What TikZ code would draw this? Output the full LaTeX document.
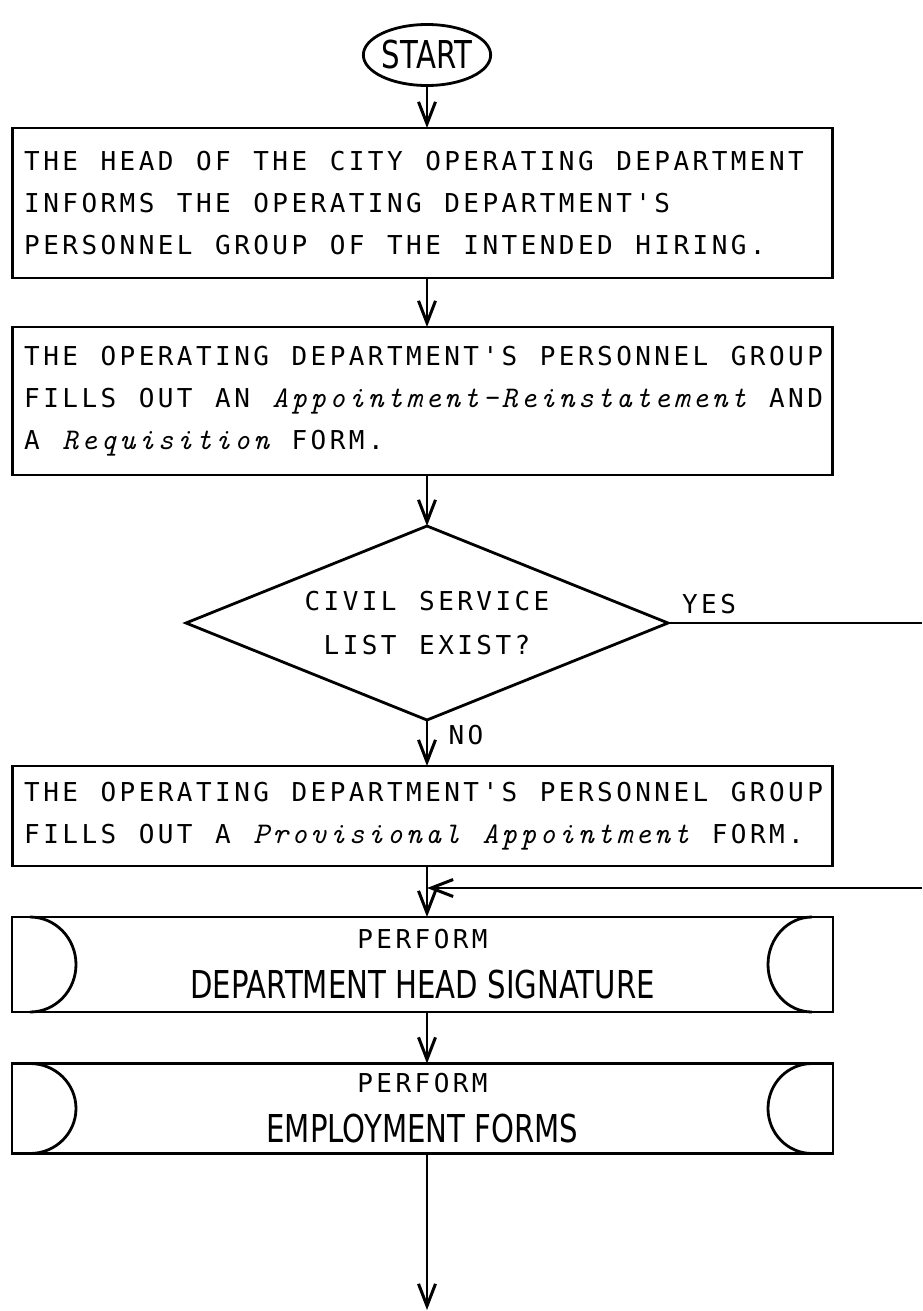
\documentclass[tikz,border=0pt]{standalone}
\usepackage{fontspec}
\usetikzlibrary{shapes.geometric,arrows.meta}

% typewriter face for the box texts, italic face for form names,
% narrow lettering face for START and the PERFORM titles
\newfontfamily\typer{DejaVu Sans Mono}
\newfontfamily\formit{lmmono10-italic.otf}
\newfontfamily\letterer[FakeStretch=0.76]{DejaVu Sans}

% fixed-pitch setting: every character, and every word space, takes one cell
\ExplSyntaxOn
\dim_new:N \l_cell_pitch_dim
\dim_set:Nn \l_cell_pitch_dim { 9.55pt }
\seq_new:N \l_cell_words_seq
\bool_new:N \l_cell_first_bool
\cs_new_protected:Npn \cell_word:n #1
  { \tl_map_inline:nn {#1} { \makebox[\l_cell_pitch_dim][c]{##1} } }
\NewDocumentCommand \cells { m }
  {
    \seq_set_split:Nnn \l_cell_words_seq { ~ } {#1}
    \bool_set_true:N \l_cell_first_bool
    \seq_map_inline:Nn \l_cell_words_seq
      {
        \bool_if:NF \l_cell_first_bool { \hspace*{\l_cell_pitch_dim} }
        \bool_set_false:N \l_cell_first_bool
        \cell_word:n {##1}
      }
  }
\NewDocumentCommand \gap { } { \hspace*{\l_cell_pitch_dim} }
\ExplSyntaxOff

\newcommand\twsize{\typer\fontsize{13pt}{21pt}\selectfont}
\newcommand\form[1]{{\formit\fontsize{15pt}{21pt}\selectfont\cells{#1}}}
\newcommand\ltsize{\letterer\fontsize{19.2pt}{25pt}\selectfont}

\tikzset{
  ink/.style={line width=1.4pt},
  procbox/.style={ink, draw, rectangle, inner xsep=5pt, inner ysep=0pt,
    outer sep=0pt, text width=400pt, align=left, font=\twsize},
  perform/.style={ink, draw, rectangle, inner sep=0pt, outer sep=0pt,
    minimum width=410.5pt, align=center, font=\fontsize{19.2pt}{25pt}\selectfont},
  decision/.style={ink, draw, diamond, aspect=2.48, inner sep=0pt, outer sep=0pt,
    minimum width=241pt, minimum height=97pt, align=center,
    font=\typer\fontsize{13pt}{22pt}\selectfont},
  terminal/.style={ink, draw, ellipse, inner sep=0pt, outer sep=0pt,
    minimum width=62pt, minimum height=30.5pt, font=\ltsize},
  lbl/.style={font=\twsize, inner sep=0pt},
  arr/.style={ink, -{Straight Barb[length=11pt,width=8.5pt,line width=1.5pt]}},
  flow/.style={ink}
}

\begin{document}
\begin{tikzpicture}[x=0.5pt,y=-0.5pt]
\useasboundingbox (0,0) rectangle (922,1311);

\coordinate (spine) at (427,0);

\node[terminal] (start) at (427,55) {START};

\node[procbox, minimum height=75pt] (b1) at (422.5,203)
  {\cells{THE HEAD OF THE CITY OPERATING DEPARTMENT}\\
   \cells{INFORMS THE OPERATING DEPARTMENT'S}\\
   \cells{PERSONNEL GROUP OF THE INTENDED HIRING.}};

\node[procbox, minimum height=74pt] (b2) at (422.5,401)
  {\cells{THE OPERATING DEPARTMENT'S PERSONNEL GROUP}\\
   \cells{FILLS OUT AN}\gap\form{Appointment-Reinstatement}\gap\cells{AND}\\
   \cells{A}\gap\form{Requisition}\gap\cells{FORM.}};

\node[decision] (d) at (427,623) {\cells{CIVIL SERVICE}\\\cells{LIST EXIST?}};

\node[procbox, minimum height=50pt] (b3) at (422.5,816)
  {\cells{THE OPERATING DEPARTMENT'S PERSONNEL GROUP}\\
   \cells{FILLS OUT A}\gap\form{Provisional Appointment}\gap\cells{FORM.}};

\node[perform, minimum height=47.5pt] (p1) at (422.5,964.5)
  {{\twsize\cells{PERFORM}}\\{\ltsize DEPARTMENT HEAD SIGNATURE}};

\node[perform, minimum height=45pt] (p2) at (422.5,1108.5)
  {{\twsize\cells{PERFORM}}\\{\ltsize EMPLOYMENT FORMS}};

% half-round marks at both ends of the PERFORM boxes
\draw[ink] ([xshift=9pt]p1.north west) arc[start angle=90, end angle=-90, x radius=23pt, y radius=23.75pt];
\draw[ink] ([xshift=-10.5pt]p1.north east) arc[start angle=90, end angle=270, x radius=22pt, y radius=23.75pt];
\draw[ink] ([xshift=9pt]p2.north west) arc[start angle=90, end angle=-90, x radius=23pt, y radius=22.5pt];
\draw[ink] ([xshift=-10.5pt]p2.north east) arc[start angle=90, end angle=270, x radius=22pt, y radius=22.5pt];

\node[lbl] (yes) at (709,604) {\cells{YES}};
\node[lbl] (no) at (466,735) {\cells{NO}};

\coordinate (yesout) at (922,623);
\coordinate (yesin) at (922,888);
\coordinate (finish) at (427,1310);

\draw[arr] (start.south) -- (spine |- b1.north);
\draw[arr] (spine |- b1.south) -- (spine |- b2.north);
\draw[arr] (spine |- b2.south) -- (d.north);
\draw[arr] (d.south) -- (spine |- b3.north);
\draw[flow] (d.east) -- (yesout);
\draw[arr] (spine |- b3.south) -- (spine |- p1.north);
\draw[arr] (yesin) -- (spine |- yesin);
\draw[arr] (spine |- p1.south) -- (spine |- p2.north);
\draw[arr] (spine |- p2.south) -- (finish);
\end{tikzpicture}
\end{document}
